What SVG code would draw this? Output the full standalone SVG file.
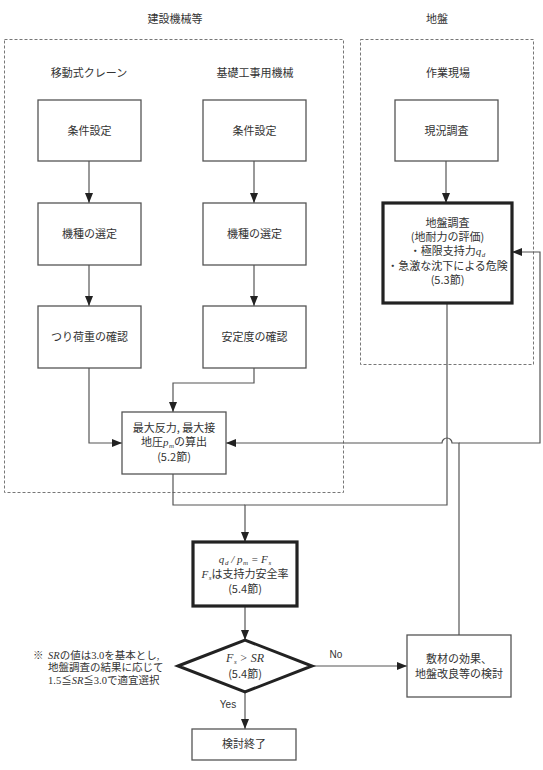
<svg xmlns="http://www.w3.org/2000/svg" width="543" height="770" viewBox="0 0 543 770">
<defs>
<style>
.t{font-family:"Noto Sans CJK JP","Noto Sans",sans-serif;font-size:11px;fill:#333;text-anchor:middle}
.m{font-family:"Liberation Serif",serif;font-style:italic}
.s{font-family:"Liberation Serif",serif;font-style:italic;font-size:7px}
.n{font-family:"Liberation Serif","Noto Sans CJK JP",serif;font-size:10.5px;fill:#333}
.box{fill:#fff;stroke:#555;stroke-width:1.3}
.bold{fill:#fff;stroke:#222;stroke-width:3.2}
.dash{fill:none;stroke:#777;stroke-width:1;stroke-dasharray:3,2}
.c{fill:none;stroke:#555;stroke-width:1.2}
</style>
<marker id="a" markerUnits="userSpaceOnUse" markerWidth="10" markerHeight="8" refX="10" refY="4" orient="auto">
<path d="M0,0 L10,4 L0,8 z" fill="#222"/>
</marker>
</defs>
<rect width="543" height="770" fill="#fff"/>

<g id="groups">
<rect class="dash" x="4.5" y="39.5" width="339" height="453"/>
<rect class="dash" x="360.5" y="39.5" width="173" height="325"/>
<text class="t" x="175" y="23">建設機械等</text>
<text class="t" x="437" y="23">地盤</text>
<text class="t" x="89" y="77">移動式クレーン</text>
<text class="t" x="255" y="77">基礎工事用機械</text>
<text class="t" x="448" y="77">作業現場</text>
</g>

<g id="connectors">
<path class="c" d="M89,161 V203" marker-end="url(#a)"/>
<path class="c" d="M254,161 V203" marker-end="url(#a)"/>
<path class="c" d="M89,265 V306" marker-end="url(#a)"/>
<path class="c" d="M254,265 V306" marker-end="url(#a)"/>
<path class="c" d="M446,161 V203" marker-end="url(#a)"/>
<path class="c" d="M89,368 V443 H122" marker-end="url(#a)"/>
<path class="c" d="M254,368 V383 H173 V412" marker-end="url(#a)"/>
<path class="c" d="M173,474 V505 H245"/>
<path class="c" d="M447,303 V505 H245 V542" marker-end="url(#a)"/>
<path class="c" d="M459,635 V443 H452 A5,5 0 0 0 442,443 H226" marker-end="url(#a)"/>
<path class="c" d="M459,443 H540 V252 H512" marker-end="url(#a)"/>
<path class="c" d="M245,606 V640" marker-end="url(#a)"/>
<path class="c" d="M312,666 H407" marker-end="url(#a)"/>
<path class="c" d="M245,692 V729" marker-end="url(#a)"/>
<text class="t" x="336" y="658" style="font-family:'Liberation Sans',sans-serif;font-size:10px">No</text>
<text class="t" x="228" y="708" style="font-family:'Liberation Sans',sans-serif;font-size:10px">Yes</text>
</g>

<g id="n1"><rect class="box" x="38" y="100" width="103" height="61"/><text class="t" x="89.5" y="135">条件設定</text></g>
<g id="n2"><rect class="box" x="203" y="100" width="103" height="61"/><text class="t" x="254.5" y="135">条件設定</text></g>
<g id="n3"><rect class="box" x="395" y="100" width="103" height="61"/><text class="t" x="446.5" y="135">現況調査</text></g>
<g id="n4"><rect class="box" x="38" y="203" width="103" height="62"/><text class="t" x="89.5" y="238">機種の選定</text></g>
<g id="n5"><rect class="box" x="203" y="203" width="103" height="62"/><text class="t" x="254.5" y="238">機種の選定</text></g>
<g id="n6"><rect class="bold" x="383" y="203" width="129" height="100"/>
<text class="t" x="447.5" y="227">地盤調査</text>
<text class="t" x="447.5" y="241">(地耐力の評価)</text>
<text class="t" x="447.5" y="255">・極限支持力<tspan class="m">q</tspan><tspan class="s" dx="0.6" dy="1.5">d</tspan></text>
<text class="t" x="447.5" y="270">・急激な沈下による危険</text>
<text class="t" x="447.5" y="284">(5.3節)</text>
</g>
<g id="n7"><rect class="box" x="38" y="306" width="103" height="62"/><text class="t" x="89.5" y="341">つり荷重の確認</text></g>
<g id="n8"><rect class="box" x="203" y="306" width="103" height="62"/><text class="t" x="254.5" y="341">安定度の確認</text></g>
<g id="n9"><rect class="box" x="122" y="412" width="104" height="62"/>
<text class="t" x="174" y="432">最大反力, 最大接</text>
<text class="t" x="174" y="446">地圧<tspan class="m">p</tspan><tspan class="s" dx="0.6" dy="1.5">m</tspan><tspan dy="-1.5">の算出</tspan></text>
<text class="t" x="174" y="461">(5.2節)</text>
</g>
<g id="n10"><rect class="bold" x="193" y="542" width="104" height="64"/>
<text class="t" x="245" y="563"><tspan class="m">q</tspan><tspan class="s" dx="0.6" dy="1.5">d</tspan><tspan class="m" dy="-1.5"> / p</tspan><tspan class="s" dx="0.6" dy="1.5">m</tspan><tspan class="m" dy="-1.5"> = F</tspan><tspan class="s" dx="0.6" dy="1.5">s</tspan></text>
<text class="t" x="245" y="578"><tspan class="m">F</tspan><tspan class="s" dx="0.6" dy="1.5">s</tspan><tspan dy="-1.5">は支持力安全率</tspan></text>
<text class="t" x="245" y="593">(5.4節)</text>
</g>
<g id="n11"><path d="M178,666 L245,640 L312,666 L245,692 Z" fill="#fff" stroke="#222" stroke-width="3"/>
<text class="t" x="245" y="662"><tspan class="m" font-size="12">F</tspan><tspan class="s" dx="0.6" dy="1.5">s</tspan><tspan class="m" font-size="12" dy="-1.5"> &gt; SR</tspan></text>
<text class="t" x="245" y="678">(5.4節)</text>
</g>
<g id="n12"><rect class="box" x="407" y="635" width="104" height="62"/>
<text class="t" x="459" y="663">敷材の効果、</text>
<text class="t" x="459" y="678">地盤改良等の検討</text>
</g>
<g id="n13"><rect class="box" x="192" y="729" width="104" height="31"/><text class="t" x="244" y="748">検討終了</text></g>

<g id="note">
<text class="n" x="33" y="659">※</text>
<text class="n" x="48" y="659"><tspan class="m">SR</tspan>の値は3.0を基本とし,</text>
<text class="n" x="48" y="671">地盤調査の結果に応じて</text>
<text class="n" x="48" y="684">1.5≦<tspan class="m">SR</tspan>≦3.0で適宜選択</text>
</g>
</svg>
